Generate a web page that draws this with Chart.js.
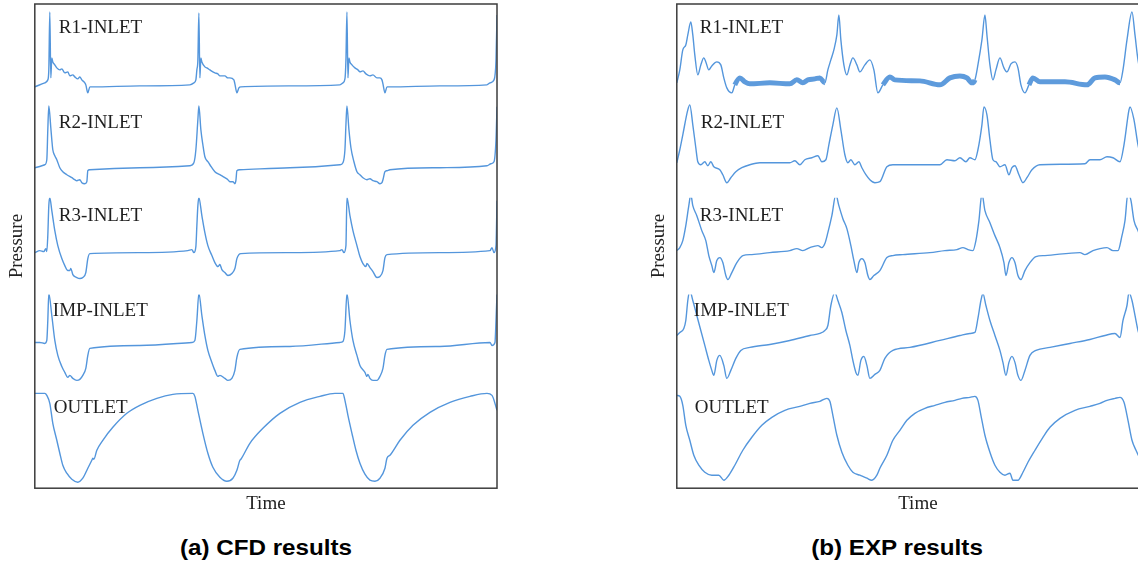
<!DOCTYPE html>
<html>
<head>
<meta charset="utf-8">
<title>CFD vs EXP pressure</title>
<script src="https://cdn.jsdelivr.net/npm/chart.js@4.4.1/dist/chart.umd.min.js"></script>
<style>
  html, body { margin: 0; padding: 0; background: #fff; }
  body { width: 1138px; height: 567px; overflow: hidden; position: relative; }
  .panel { position: absolute; top: 0; height: 519px; }
  #panelA { left: 0; width: 500px; }
  #panelB { left: 642px; width: 520px; }
  .caption { position: absolute; top: 535px; width: 300px; text-align: center;
    font-family: "Liberation Sans", Arial, sans-serif; font-weight: bold; font-size: 22px;
    color: #000; transform: scaleX(1.1); }
  #capA { left: 116px; }
  #capB { left: 747px; }
</style>
</head>
<body>
<div class="panel" id="panelA"><canvas id="cfdChart"></canvas></div>
<div class="panel" id="panelB"><canvas id="expChart"></canvas></div>
<div class="caption" id="capA">(a) CFD results</div>
<div class="caption" id="capB">(b) EXP results</div>

<script>
// --- DATA: [time, pressure] (arbitrary units, one cycle ~148) ---

// (a) CFD
const cfdR1 = [[0,14],[10,18],[13,21],[14,31],[15,89],[16,23],[17,43],[18,39],[20,36],[22,33],[25,31],[27,32],[30,28],[33,29],[35,25],[38,26],[40,24],[43,22],[45,24],[47,21],[50,18],[51,16],[53,8],[55,14],[57,14],[105,15],[155,16],[159,18],[161,21],[162,31],[163,41],[164,88],[165,23],[166,43],[167,39],[170,34],[172,33],[175,31],[178,29],[180,28],[183,27],[185,25],[190,25],[193,23],[195,23],[199,21],[200,17],[202,8],[204,13],[206,14],[255,15],[305,16],[308,18],[310,22],[311,41],[312,89],[313,23],[314,43],[315,39],[317,36],[320,33],[323,31],[325,29],[328,30],[331,27],[335,25],[338,26],[342,23],[345,23],[347,21],[348,17],[350,8],[352,14],[355,14],[405,15],[452,16],[455,18],[459,21],[461,41],[462,86]];
const cfdR2 = [[0,30],[10,33],[12,38],[13,68],[14,92],[16,70],[17,58],[18,48],[20,42],[22,38],[25,30],[28,26],[32,23],[37,20],[40,18],[42,17],[45,18],[47,15],[50,14],[52,16],[53,27],[55,28],[105,30],[155,32],[159,35],[161,48],[163,78],[164,92],[166,68],[168,53],[170,41],[173,36],[175,33],[180,26],[185,23],[190,20],[193,18],[195,16],[198,16],[200,14],[201,17],[202,27],[205,28],[255,30],[305,33],[308,35],[310,48],[311,73],[312,92],[314,68],[316,50],[319,36],[322,26],[325,23],[328,20],[332,18],[335,19],[338,17],[342,16],[345,14],[347,15],[348,18],[350,26],[352,27],[355,28],[405,30],[452,32],[456,34],[459,36],[461,58],[462,91]];
const cfdR3 = [[0,42],[5,44],[9,43],[11,46],[12,43],[13,59],[14,89],[15,97],[17,84],[20,64],[23,49],[27,36],[30,29],[33,24],[35,24],[36,26],[38,20],[42,17],[45,16],[48,17],[51,22],[53,36],[55,41],[105,42],[153,44],[157,45],[159,42],[161,48],[162,69],[163,89],[164,97],[167,79],[170,62],[173,49],[177,39],[180,32],[183,28],[185,30],[187,25],[190,22],[193,19],[197,21],[200,26],[202,36],[204,40],[206,41],[255,42],[305,44],[307,45],[309,42],[311,49],[312,97],[315,79],[318,64],[322,49],[325,38],[328,31],[331,28],[332,31],[335,27],[338,23],[342,17],[345,18],[348,24],[350,37],[352,40],[405,42],[455,44],[457,47],[459,42],[461,49],[462,94]];
const cfdImp = [[0,49],[5,49],[10,48],[12,51],[13,71],[14,98],[17,76],[20,51],[23,36],[27,25],[30,19],[33,14],[35,16],[38,13],[42,11],[45,12],[48,16],[51,23],[53,36],[55,43],[105,46],[157,49],[160,51],[162,71],[164,98],[167,76],[170,56],[173,41],[177,29],[180,21],[183,15],[185,16],[190,13],[193,11],[197,13],[200,21],[202,34],[205,42],[255,45],[305,49],[308,50],[310,61],[312,98],[315,71],[318,51],[322,36],[325,26],[330,19],[332,15],[333,17],[335,13],[338,11],[342,11],[345,15],[348,23],[350,36],[352,42],[405,45],[455,49],[457,46],[460,49],[461,71],[462,98]];
const cfdOut = [[0,95],[10,95],[12,93],[15,85],[18,65],[22,48],[25,35],[28,23],[32,15],[37,9],[43,6],[48,10],[53,20],[57,28],[58,30],[59,29],[62,38],[68,48],[78,61],[92,75],[105,83],[122,90],[138,94],[158,95],[160,92],[163,78],[168,55],[173,35],[178,21],[185,11],[192,7],[198,10],[202,18],[205,28],[206,29],[215,45],[228,60],[245,75],[265,86],[285,92],[300,95],[308,95],[310,88],[313,73],[317,55],[321,38],[325,25],[330,14],[335,8],[340,7],[345,10],[350,20],[352,30],[355,33],[365,48],[378,63],[395,76],[415,86],[435,92],[452,95],[457,93],[462,78]];

// (b) EXP
const expR1 = [[0,18],[3,31],[6,51],[9,56],[11,66],[14,79],[16,66],[18,46],[21,26],[24,36],[27,43],[29,39],[32,31],[35,35],[40,39],[44,36],[47,23],[50,13],[55,8],[58,16],[63,23],[68,19],[73,17],[93,18],[113,17],[120,21],[126,18],[131,21],[138,22],[143,23],[148,18],[151,31],[154,41],[157,51],[160,66],[162,86],[164,61],[167,36],[170,26],[173,36],[176,43],[180,36],[183,29],[188,36],[193,41],[197,31],[201,8],[206,16],[213,24],[218,21],[243,20],[263,16],[273,23],[283,25],[290,23],[295,18],[298,21],[301,36],[305,61],[308,86],[310,66],[313,36],[316,21],[319,31],[323,43],[327,33],[330,29],[334,37],[338,39],[341,33],[344,16],[348,8],[352,16],[356,23],[363,19],[388,19],[410,16],[418,23],[428,24],[438,21],[443,18],[446,31],[450,61],[455,89],[458,66],[461,41],[465,26],[469,41],[473,43],[482,31]];
const expR2 = [[0,35],[3,48],[6,63],[11,88],[13,93],[16,73],[19,50],[21,36],[24,33],[28,36],[31,32],[34,36],[37,31],[43,28],[46,23],[50,15],[54,20],[59,26],[65,30],[73,33],[83,35],[113,35],[118,37],[123,33],[128,38],[135,40],[141,42],[145,36],[149,38],[152,53],[156,73],[160,90],[164,68],[168,43],[171,35],[174,38],[178,33],[182,36],[185,30],[189,23],[193,18],[198,15],[203,16],[210,31],[216,33],[263,33],[270,38],[278,37],[283,40],[289,36],[293,40],[298,38],[301,48],[305,73],[307,91],[310,83],[313,58],[316,38],[319,36],[323,31],[328,33],[332,23],[335,30],[338,32],[342,23],[346,15],[350,20],[355,28],[363,33],[408,34],[413,38],[423,38],[430,41],[436,40],[443,36],[447,53],[452,88],[453,91],[457,78],[461,53],[465,38],[473,33],[482,28]];
const expR3 = [[0,44],[3,47],[6,54],[9,69],[12,89],[14,100],[16,89],[20,79],[25,64],[29,54],[32,39],[35,29],[37,22],[40,34],[43,37],[46,32],[49,19],[51,15],[55,22],[60,32],[66,39],[75,40],[93,42],[113,44],[120,46],[126,44],[133,47],[141,49],[145,47],[148,51],[151,62],[155,79],[159,100],[162,89],[166,76],[170,66],[174,49],[177,34],[180,22],[182,32],[185,36],[188,32],[191,19],[193,15],[197,19],[203,24],[210,37],[216,39],[226,40],[253,42],[268,44],[280,45],[286,47],[291,45],[296,44],[299,54],[302,74],[305,101],[308,84],[313,72],[318,59],[323,47],[327,32],[329,19],[332,32],[335,37],[338,32],[341,19],[344,15],[348,24],[353,32],[359,38],[368,39],[403,42],[408,40],[416,44],[423,46],[430,47],[436,44],[441,44],[445,59],[448,74],[451,102],[454,94],[457,74],[461,64],[468,44],[473,24],[482,29]];
const expImp = [[0,56],[3,59],[7,63],[9,71],[11,91],[13,101],[16,91],[20,76],[24,61],[28,46],[32,31],[35,21],[37,16],[40,31],[43,36],[47,26],[50,13],[54,21],[59,33],[64,41],[73,44],[93,47],[113,51],[133,56],[143,58],[148,61],[151,66],[154,86],[158,99],[161,91],[165,79],[169,61],[173,46],[176,31],[179,19],[181,16],[184,31],[187,35],[190,26],[193,13],[198,17],[203,21],[208,33],[216,41],[233,44],[263,51],[283,56],[293,58],[298,59],[301,73],[304,91],[306,98],[309,86],[313,71],[318,56],[323,41],[326,29],[329,16],[332,29],[335,35],[338,29],[341,16],[344,11],[348,21],[353,36],[359,41],[373,44],[393,48],[413,52],[428,56],[438,58],[443,54],[446,71],[450,86],[452,99],[455,91],[458,76],[461,61],[468,41],[475,21],[482,31]];
const expOut = [[0,93],[3,92],[6,83],[9,63],[13,48],[17,33],[22,23],[28,16],[35,13],[42,13],[47,8],[52,13],[58,23],[66,38],[75,51],[85,63],[95,71],[108,78],[123,82],[133,85],[143,87],[150,90],[153,87],[156,73],[160,53],[165,36],[171,23],[176,16],[183,13],[190,10],[195,8],[200,13],[203,20],[210,33],[216,48],[223,58],[230,68],[238,75],[248,80],[258,83],[268,86],[278,88],[285,90],[293,91],[298,92],[301,88],[304,73],[308,53],[313,36],[318,23],[323,16],[328,13],[333,15],[336,8],[341,8],[346,16],[351,26],[358,38],[366,51],[373,61],[383,70],[398,78],[413,82],[423,85],[430,88],[438,90],[443,91],[447,86],[451,68],[455,48],[459,38],[465,26],[473,16],[482,12]];

const traceNames = ['R1-INLET', 'R2-INLET', 'R3-INLET', 'IMP-INLET', 'OUTLET'];
const cfdTimeMax = 462;
const expTimeMax = 482;
// stretches of the EXP R1 record where the signal is a thick noisy band
const expR1NoisyRanges = [[58, 148], [206, 298], [352, 443]];

// --- STYLE ---
const axisIds = ['r1', 'r2', 'r3', 'imp', 'out'];
const lineColor = 'rgb(84,150,220)';
const noisyColor = 'rgba(66,138,214,0.85)';
const serifFont = { family: '"Liberation Serif", "Times New Roman", serif', size: 19 };

// frame box + trace names written inside the plot
const framePlugin = {
    id: 'frame',
    afterDraw(chart, args, opts) {
        const ctx = chart.ctx;
        const a = chart.chartArea;
        ctx.save();
        ctx.strokeStyle = '#3c3c3c';
        ctx.lineWidth = 1.5;
        ctx.strokeRect(a.left, a.top, a.right - a.left, a.bottom - a.top);
        ctx.font = '19px "Liberation Serif", "Times New Roman", serif';
        ctx.fillStyle = '#1e1e1e';
        ctx.textBaseline = 'alphabetic';
        (opts.labels || []).forEach((l) => {
            const x = chart.scales.x.getPixelForValue(l.t);
            const y = chart.scales[l.axis].getPixelForValue(l.p);
            ctx.fillText(l.text, x, y);
        });
        ctx.restore();
    }
};

function buildScales(xMax) {
    const scales = {
        x: {
            type: 'linear', min: 0, max: xMax,
            grid: { display: false, drawTicks: false },
            border: { display: false },
            ticks: { display: false },
            title: { display: true, text: 'Time', font: serifFont, color: '#222', padding: { top: 4, bottom: 4 } }
        },
        yp: {
            axis: 'y', type: 'linear', position: 'left', min: 0, max: 1,
            grid: { display: false, drawTicks: false },
            border: { display: false },
            ticks: { display: false },
            title: { display: true, text: 'Pressure', font: serifFont, color: '#222', padding: { top: 5, bottom: 6 } }
        }
    };
    // one hidden axis per trace, stacked top to bottom
    axisIds.forEach((id) => {
        scales[id] = { axis: 'y', type: 'linear', position: 'right', stack: 'traces', stackWeight: 1, min: 0, max: 97, display: false };
    });
    return scales;
}

function buildDatasets(series) {
    return series.map((data, i) => ({
        label: traceNames[i],
        data: data,
        xAxisID: 'x',
        yAxisID: axisIds[i],
        borderColor: lineColor,
        borderWidth: 1.4,
        pointRadius: 0,
        cubicInterpolationMode: 'monotone'
    }));
}

function labelList(pos) {
    return traceNames.map((name, i) => ({ text: name, axis: axisIds[i], t: pos[i][0], p: pos[i][1] }));
}

function makeChart(canvasId, series, xMax, labelPos) {
    const datasets = buildDatasets(series);
    return new Chart(document.getElementById(canvasId), {
        type: 'line',
        data: { datasets: datasets },
        options: {
            responsive: true,
            maintainAspectRatio: false,
            animation: false,
            layout: { padding: { left: 1, right: 3, top: 4, bottom: 0 } },
            scales: buildScales(xMax),
            plugins: {
                legend: { display: false },
                tooltip: { enabled: false },
                frame: { labels: labelList(labelPos) }
            }
        },
        plugins: [framePlugin]
    });
}

// 1. CFD panel
const cfdChart = makeChart('cfdChart', [cfdR1, cfdR2, cfdR3, cfdImp, cfdOut], cfdTimeMax,
    [[24, 68], [24, 70], [24, 74], [18, 75], [19, 75]]);

// 2. EXP panel (R1 gets a thick band where the measurement is noisy)
const expChart = makeChart('expChart', [expR1, expR2, expR3, expImp, expOut], expTimeMax,
    [[23, 68], [24, 70], [23, 74], [17, 75], [18, 75]]);
const inNoisy = (ctx) => expR1NoisyRanges.some(([a, b]) => ctx.p0.parsed.x >= a && ctx.p1.parsed.x <= b);
expChart.data.datasets[0].segment = {
    borderWidth: (ctx) => inNoisy(ctx) ? 5 : 1.4,
    borderColor: (ctx) => inNoisy(ctx) ? noisyColor : lineColor
};
expChart.update();
</script>
</body>
</html>
